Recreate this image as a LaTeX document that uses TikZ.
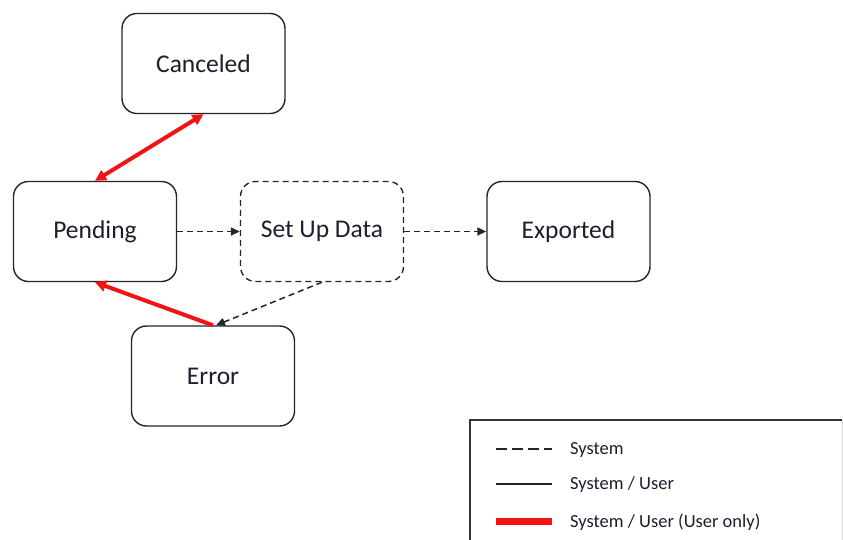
\documentclass[tikz,border=0pt]{standalone}
\usepackage{fontspec}
\setmainfont{Carlito}
\usetikzlibrary{arrows.meta,calc}
\definecolor{txt}{RGB}{30,30,45}
\definecolor{arrred}{RGB}{240,20,20}
\tikzset{
  state/.style={draw=black!85, line width=1.4pt, rounded corners=15pt, minimum width=163pt, minimum height=100pt, inner sep=0pt, text=txt, font=\fontsize{25.5}{30}\selectfont},
  sysline/.style={line width=1.5pt, dash pattern=on 6pt off 4pt, black!85},
  sysarrow/.style={sysline, -{Triangle[length=9pt,width=8pt]}},
  useronly/.style={line width=4pt, arrred},
  uarrow/.style={useronly, -{Triangle[length=11pt,width=11pt]}},
  uarrows/.style={useronly, {Triangle[length=11pt,width=11pt]}-{Triangle[length=11pt,width=11pt]}},
  legtext/.style={anchor=west, text=txt, inner sep=0pt, font=\fontsize{18.5}{22}\selectfont},
}
\begin{document}
\begin{tikzpicture}[x=1pt,y=-1pt]
\useasboundingbox (0,0) rectangle (843,539);
\fill[white] (0,0) rectangle (843,539);
\node[state] (canc) at (203.5,63.5) {Canceled};
\node[state] (pend) at (95,231.5) {Pending};
\node[state, dash pattern=on 6pt off 4pt] (setup) at (322,231.5) {Set Up Data};
\node[state] (exp) at (568.5,231.5) {Exported};
\node[state] (err) at (213,376) {Error};
\draw[uarrows] (pend.north) -- (canc.south);
\draw[uarrow] (err.north) -- (pend.south);
\draw[sysarrow] (pend.east) -- (setup.west);
\draw[sysarrow] (setup.east) -- (exp.west);
\coordinate (errtop) at ($(err.north)+(3,0)$);
\draw[sysarrow] (setup.south) -- (errtop);
% legend
\draw[black!80, line width=1.3pt] (470,545) -- (470,420) -- (842,420);
\draw[black!15, line width=1pt] (842,420) -- (842,545);
\coordinate (l1a) at (496,449); \coordinate (l1b) at (552,449);
\coordinate (l2a) at (496,484); \coordinate (l2b) at (552,484);
\coordinate (l3a) at (496,521); \coordinate (l3b) at (552,521);
\draw[black!85, line width=1.2pt, dash pattern=on 11pt off 5pt] (l1a) -- (l1b);
\draw[black!85, line width=1.2pt] (l2a) -- (l2b);
\draw[arrred, line width=7pt] (l3a) -- (l3b);
\node[legtext] (t1) at (570,450) {System};
\node[legtext] (t2) at (570,485) {System / User};
\node[legtext] (t3) at (570,522) {System / User (User only)};
\end{tikzpicture}
\end{document}
